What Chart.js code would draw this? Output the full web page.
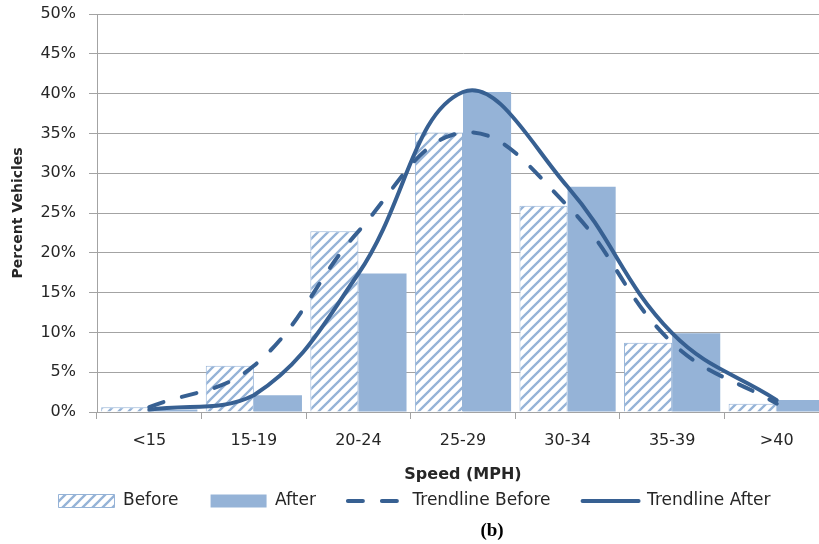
<!DOCTYPE html>
<html>
<head>
<meta charset="utf-8">
<title>Speed distribution</title>
<script src="https://cdn.jsdelivr.net/npm/chart.js@4.4.1/dist/chart.umd.min.js"></script>
<style>
  html, body { margin: 0; padding: 0; background: #fff; overflow: hidden; }
  #wrap { position: relative; width: 819px; height: 544px; overflow: hidden; }
  #chart { position: absolute; left: 0; top: 0; }
  #label { position: absolute; left: 442px; top: 519px; width: 100px; text-align: center;
           font: bold 19px "Liberation Serif", "Times New Roman", serif; line-height: 22px; color: #000; }
</style>
</head>
<body>
<div id="wrap">
  <canvas id="chart" width="835" height="544"></canvas>
  <div id="label">(b)</div>
</div>
<script>
const categories = ["<15", "15-19", "20-24", "25-29", "30-34", "35-39", ">40"];
const beforeValues = [0.6, 5.8, 22.7, 35.1, 25.9, 8.7, 1.05];
const afterValues = [0.3, 2.1, 17.4, 40.2, 28.3, 9.9, 1.5];
const yMin = 0;
const yMax = 50;
const yStep = 5;

const LIGHT = "#95b3d7";
const DARK = "#376092";
const GRID = "#a3a3a3";
const TEXT = "#262626";
const FONT = "'DejaVu Sans', sans-serif";

// diagonal hatch for the "Before" bars
function hatch(color) {
    const s = 10;
    const c = document.createElement("canvas");
    c.width = s;
    c.height = s;
    const g = c.getContext("2d");
    g.fillStyle = "#fff";
    g.fillRect(0, 0, s, s);
    g.strokeStyle = color;
    g.lineWidth = 2.3;
    g.beginPath();
    g.moveTo(-1, s + 1); g.lineTo(s + 1, -1);
    g.moveTo(-2, 2); g.lineTo(2, -2);
    g.moveTo(s - 2, s + 2); g.lineTo(s + 2, s - 2);
    g.stroke();
    return g.createPattern(c, "repeat");
}

const ctx = document.getElementById("chart").getContext("2d");

new Chart(ctx, {
    type: "bar",
    data: {
        labels: categories,
        datasets: [
            {
                label: "Before",
                data: beforeValues,
                backgroundColor: hatch(LIGHT),
                borderColor: LIGHT,
                borderWidth: 1,
                pointStyle: "rect",
                order: 2
            },
            {
                label: "After",
                data: afterValues,
                backgroundColor: LIGHT,
                borderWidth: 0,
                pointStyle: "rect",
                order: 2
            },
            {
                type: "line",
                label: "Trendline Before",
                data: beforeValues,
                borderColor: DARK,
                backgroundColor: DARK,
                borderWidth: 4,
                borderDash: [15, 19],
                borderCapStyle: "round",
                tension: 0.4,
                pointRadius: 0,
                pointStyle: "line",
                order: 1
            },
            {
                type: "line",
                label: "Trendline After",
                data: afterValues,
                borderColor: DARK,
                backgroundColor: DARK,
                borderWidth: 4,
                borderCapStyle: "round",
                tension: 0.4,
                pointRadius: 0,
                pointStyle: "line",
                order: 1
            }
        ]
    },
    options: {
        responsive: false,
        maintainAspectRatio: false,
        devicePixelRatio: 1,
        animation: false,
        datasets: {
            bar: { categoryPercentage: 0.92, barPercentage: 1.0 }
        },
        layout: { padding: { top: 14, right: 6, bottom: 24.5, left: 0 } },
        scales: {
            x: {
                grid: { drawOnChartArea: false, tickLength: 7, color: GRID, offset: true },
                border: { color: GRID },
                ticks: { padding: 12, color: TEXT, font: { family: FONT, size: 16 } },
                title: {
                    display: true,
                    text: "Speed (MPH)",
                    color: TEXT,
                    font: { family: FONT, size: 16, weight: "bold" },
                    padding: { top: 0, bottom: -24 }
                },
                afterFit: (scale) => { scale.height = 48.5; }
            },
            y: {
                min: yMin,
                max: yMax,
                grid: { color: GRID, tickLength: 8 },
                border: { color: GRID },
                ticks: {
                    stepSize: yStep,
                    padding: 13,
                    color: TEXT,
                    font: { family: FONT, size: 16 },
                    callback: (v) => v + "%"
                },
                title: {
                    display: true,
                    text: "Percent Vehicles",
                    color: TEXT,
                    font: { family: FONT, size: 14, weight: "bold" },
                    padding: { top: 10, bottom: 0 }
                },
                afterFit: (scale) => {
                    scale.width = 97;
                    // let the layout padding alone decide where the plot starts
                    scale.paddingTop = 0;
                    scale.paddingBottom = 0;
                }
            }
        },
        plugins: {
            tooltip: { enabled: false },
            legend: {
                position: "bottom",
                labels: {
                    usePointStyle: true,
                    pointStyleWidth: 56,
                    boxHeight: 13,
                    padding: 32,
                    color: TEXT,
                    font: { family: FONT, size: 17 },
                    generateLabels: (chart) => {
                        const items = Chart.defaults.plugins.legend.labels.generateLabels(chart);
                        items.forEach((item) => {
                            const ds = chart.data.datasets[item.datasetIndex];
                            item.lineDash = ds.borderDash || [];
                            if (ds.type === "line") item.lineCap = "round";
                        });
                        return items.sort((a, b) => a.datasetIndex - b.datasetIndex);
                    }
                }
            }
        }
    }
});
</script>
</body>
</html>
